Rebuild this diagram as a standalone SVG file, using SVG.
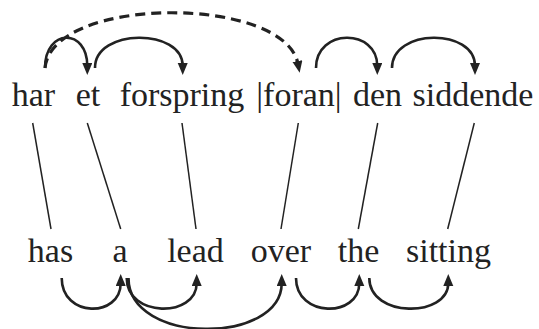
<svg xmlns="http://www.w3.org/2000/svg" width="539" height="329" viewBox="0 0 539 329">
<defs>
<marker id="ah" markerUnits="userSpaceOnUse" markerWidth="13" markerHeight="11" refX="3" refY="5" orient="auto">
<path d="M0,0 L12,5 L0,10 z" fill="#222"/>
</marker>
</defs>
<g font-family="Liberation Serif" font-size="34" fill="#222" text-anchor="middle">
<g id="n-har"><text x="33.5" y="105.5">har</text></g>
<g id="n-et"><text x="88" y="105.5">et</text></g>
<g id="n-forspring"><text x="182" y="105.5">forspring</text></g>
<g id="n-foran"><text x="299" y="105.5">|foran|</text></g>
<g id="n-den"><text x="377.5" y="105.5">den</text></g>
<g id="n-siddende"><text x="473" y="105.5">siddende</text></g>
<g id="n-has"><text x="50.5" y="262">has</text></g>
<g id="n-a"><text x="120" y="262">a</text></g>
<g id="n-lead"><text x="195.5" y="262">lead</text></g>
<g id="n-over"><text x="281" y="262">over</text></g>
<g id="n-the"><text x="358.5" y="262">the</text></g>
<g id="n-sitting"><text x="448.5" y="262">sitting</text></g>
</g>
<g id="connectors" stroke="#222" fill="none">
<g stroke-width="1.5">
<line x1="32.7" y1="123" x2="51" y2="229"/>
<line x1="87.3" y1="123" x2="120.7" y2="229"/>
<line x1="182" y1="123" x2="196" y2="229"/>
<line x1="298.3" y1="123" x2="281" y2="229"/>
<line x1="377.7" y1="123" x2="358.3" y2="229"/>
<line x1="474.3" y1="123" x2="447.7" y2="229"/>
</g>
<g stroke-width="2.6" marker-end="url(#ah)">
<path d="M45,68 C45,28 87.3,28 87.3,66"/>
<path d="M95,68 C95,28 182.7,28 182.7,66"/>
<path d="M316,68 C316,28 377.3,28 377.3,66"/>
<path d="M392,68 C392,28 475,28 475,66"/>
<path d="M61.7,278 C61.7,318 120.7,318 120.7,283"/>
<path d="M126.7,278 C126.7,318 196.7,318 196.7,283"/>
<path d="M128.5,278 C128.5,345 281.7,345 281.7,283"/>
<path d="M296,278 C296,318 359.3,318 359.3,283"/>
<path d="M369.3,278 C369.3,318 448.3,318 448.3,283"/>
</g>
<path d="M45,68 C52,-5 285,-5 298,64" stroke-width="3.2" stroke-dasharray="10 6" marker-end="url(#ah)"/>
</g>
</svg>
